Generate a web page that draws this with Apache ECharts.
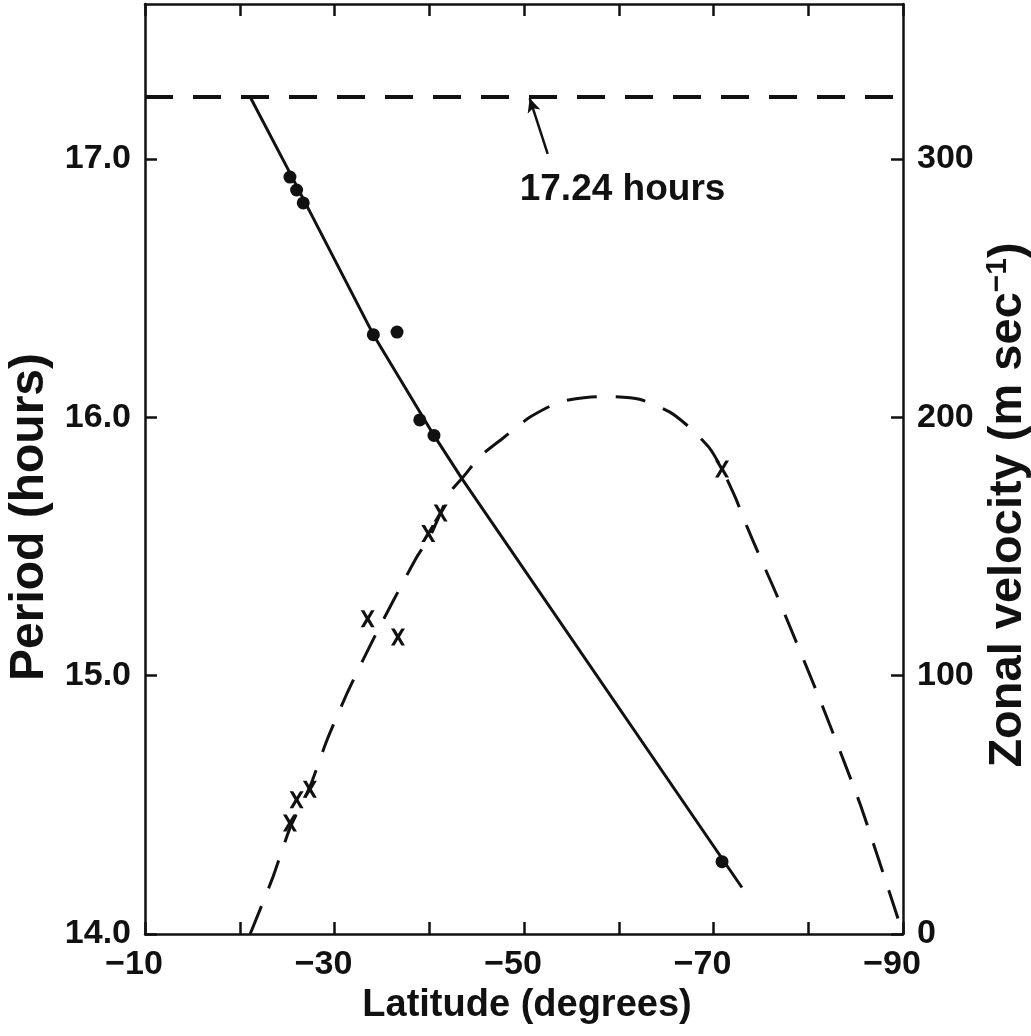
<!DOCTYPE html>
<html>
<head>
<meta charset="utf-8">
<script src="https://cdn.jsdelivr.net/npm/echarts@6/dist/echarts.min.js"></script>
<style>
html,body{margin:0;padding:0;background:#fff;}
#chart{width:1031px;height:1036px;}
</style>
</head>
<body>
<div id="chart"></div>
<script>
// ---- data ----
const rotationPeriod = 17.24;
const rotationLabel = '17.24 hours';

// filled dots : period (hours) vs latitude
const dotLat    = [-25.3, -26.0, -26.7, -34.1, -36.6, -39.0, -40.5, -70.9];
const dotPeriod = [16.93, 16.88, 16.83, 16.32, 16.33, 15.99, 15.93, 14.28];

// solid fitted line (period)
const fitLat    = [-21.1, -25.1, -34.1, -40.5, -43.5, -73.0];
const fitPeriod = [17.24, 16.96, 16.32, 15.93, 15.76, 14.18];

// crosses : zonal velocity (m/s) vs latitude
const xLat = [-25.3, -26.0, -27.4, -33.5, -36.7, -39.9, -41.2, -70.9];
const xVel = [43, 52, 56, 122, 115, 155, 163, 180];

// dashed velocity curve
const curveLat = [-21.1, -23.5, -25.3, -27.4, -29.2, -31.3, -33.0, -34.5, -36.2, -38.7, -40.1, -42.2, -43.6,
                  -45.4, -47.8, -50.6, -53.8, -57.7, -59.4, -62.2, -65.4, -67.5, -69.6, -70.9, -72.3,
                  -73.5, -74.9, -76.7, -81.2, -85.5, -90.0];
const curveVel = [0, 22, 41, 57, 75, 93, 106, 117, 129, 146, 154, 171, 177,
                  185, 192, 200, 206, 208, 208, 207, 202, 196, 188, 180, 169,
                  158, 146, 131, 91, 50, 0];

// axis ticks / labels
const latTicks   = [-90, -80, -70, -60, -50, -40, -30, -20, -10];
const latLabels  = [-90, -70, -50, -30, -10];
const periodTicks = [14, 15, 16, 17];
const velTicks    = [0, 100, 200, 300];

// annotation arrow (from, to) and label position
const arrowFrom = [-52.5, 17.02];
const arrowTo   = [-50.6, 17.235];
const labelPos  = [-60.4, 16.88];

// ---- chart ----
const FONT = '"Liberation Sans", Arial, sans-serif';
const INK = '#111';
const axisLineStyle = {color: INK, width: 2.5};
const tickStyle = {color: INK, width: 2.5};

const zip = (a, b) => a.map((v, i) => [v, b[i]]);

const chart = echarts.init(document.getElementById('chart'), null, {renderer: 'canvas'});
const option = {
  backgroundColor: '#fff',
  animation: false,
  grid: {left: 145, right: 128, top: 4, bottom: 102},
  xAxis: [{
    type: 'value', position: 'bottom', min: -90, max: -10, interval: 10, inverse: true,
    axisLine: {show: true, onZero: false, lineStyle: axisLineStyle},
    axisTick: {show: true, inside: true, length: 12, lineStyle: tickStyle, customValues: latTicks},
    axisLabel: {show: true, customValues: latLabels, margin: 14, padding: [0, 22, 0, 0],
      fontFamily: FONT, fontWeight: 'bold', fontSize: 34, color: INK,
      formatter: v => String(v).replace('-', '\u2212')},
    splitLine: {show: false}
  }, {
    type: 'value', position: 'top', min: -90, max: -10, interval: 10, inverse: true,
    axisLine: {show: true, onZero: false, lineStyle: axisLineStyle},
    axisTick: {show: true, inside: true, length: 12, lineStyle: tickStyle, customValues: latTicks},
    axisLabel: {show: false},
    splitLine: {show: false}
  }],
  yAxis: [{
    type: 'value', position: 'left', min: 14, max: 17.6, interval: 1,
    axisLine: {show: true, onZero: false, lineStyle: axisLineStyle},
    axisTick: {show: true, inside: true, length: 12, lineStyle: tickStyle, customValues: periodTicks},
    axisLabel: {show: true, customValues: periodTicks, margin: 14,
      fontFamily: FONT, fontWeight: 'bold', fontSize: 34, color: INK,
      formatter: v => v.toFixed(1)},
    splitLine: {show: false}
  }, {
    type: 'value', position: 'right', min: 0, max: 360, interval: 100,
    axisLine: {show: true, onZero: false, lineStyle: axisLineStyle},
    axisTick: {show: true, inside: true, length: 12, lineStyle: tickStyle, customValues: velTicks},
    axisLabel: {show: true, customValues: velTicks, margin: 14,
      fontFamily: FONT, fontWeight: 'bold', fontSize: 34, color: INK,
      formatter: v => String(v)},
    splitLine: {show: false}
  }],
  series: [
    {
      name: 'rotation period', type: 'line', xAxisIndex: 0, yAxisIndex: 0,
      data: [[-10, rotationPeriod], [-90, rotationPeriod]],
      symbol: 'none', lineStyle: {color: INK, width: 4, type: [28, 20]},
      z: 2,
      markLine: {
        silent: true, animation: false,
        symbol: ['none', 'arrow'], symbolSize: [10, 14],
        label: {show: false},
        lineStyle: {color: INK, width: 2.5, type: 'solid'},
        data: [[{coord: arrowFrom}, {coord: arrowTo}]]
      },
      markPoint: {
        silent: true, animation: false,
        data: [{coord: labelPos, symbol: 'circle', symbolSize: 1,
          itemStyle: {color: 'rgba(0,0,0,0)'},
          label: {show: true, position: 'inside', formatter: rotationLabel,
            fontFamily: FONT, fontWeight: 'bold', fontSize: 37, color: INK}}]
      }
    },
    {
      name: 'fit', type: 'line', xAxisIndex: 0, yAxisIndex: 0,
      data: zip(fitLat, fitPeriod), symbol: 'none',
      lineStyle: {color: INK, width: 3}, z: 3
    },
    {
      name: 'period', type: 'scatter', xAxisIndex: 0, yAxisIndex: 0,
      data: zip(dotLat, dotPeriod), symbol: 'circle', symbolSize: 13,
      itemStyle: {color: INK, opacity: 1}, z: 4
    },
    {
      name: 'velocity curve', type: 'line', xAxisIndex: 0, yAxisIndex: 1,
      data: zip(curveLat, curveVel), symbol: 'none', smooth: 0.2,
      lineStyle: {color: INK, width: 3, type: [30, 19]}, z: 3
    },
    {
      name: 'velocity', type: 'scatter', xAxisIndex: 0, yAxisIndex: 1,
      data: zip(xLat, xVel),
      symbol: 'path://M0,0 L2.6,0 L5,4 L7.4,0 L10,0 L6.4,6 L10,12 L7.4,12 L5,8 L2.6,12 L0,12 L3.6,6 Z',
      symbolSize: [14, 17], itemStyle: {color: INK, opacity: 1}, z: 4
    }
  ],
  graphic: [
    {type: 'text', x: 527, y: 1006,
      style: {text: 'Latitude (degrees)', fontFamily: FONT, fontWeight: 'bold', fontSize: 38, fill: INK, align: 'center', verticalAlign: 'middle'}},
    {type: 'text', x: 30, y: 517, rotation: Math.PI / 2,
      style: {text: 'Period (hours)', fontFamily: FONT, fontWeight: 'bold', fontSize: 48, fill: INK, align: 'center', verticalAlign: 'middle'}},
    {type: 'text', x: 1008, y: 505, rotation: Math.PI / 2,
      style: {text: 'Zonal velocity (m sec{sup|\u22121})', fontFamily: FONT, fontWeight: 'bold', fontSize: 47, fill: INK,
        align: 'center', verticalAlign: 'middle',
        rich: {sup: {fontFamily: FONT, fontWeight: 'bold', fontSize: 30, fill: INK, padding: [0, 0, 20, 0]}}}}
  ]
};
chart.setOption(option);
</script>
</body>
</html>
